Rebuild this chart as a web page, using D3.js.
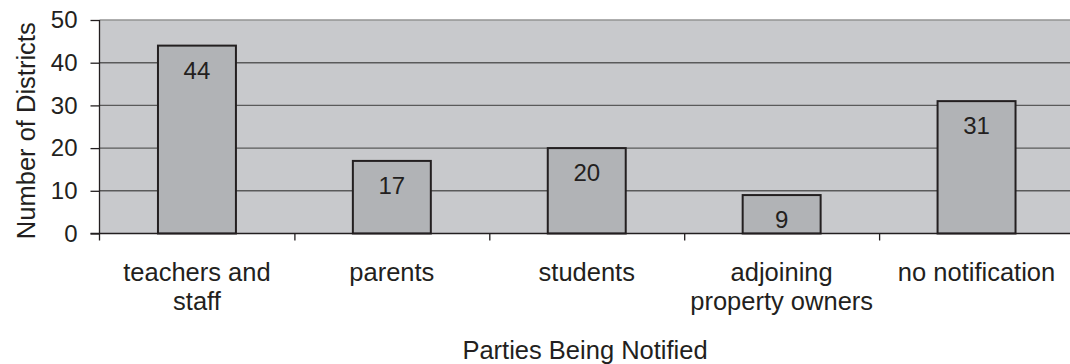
<!DOCTYPE html>
<html>
<head>
<meta charset="utf-8">
<script src="https://cdn.jsdelivr.net/npm/d3@7"></script>
<style>
  html, body { margin: 0; padding: 0; background: #fff; }
  svg { display: block; }
  text { font-family: "Liberation Sans", Arial, sans-serif; fill: #231f20; }
</style>
</head>
<body>
<svg id="chart" width="1070" height="364"></svg>
<script>
// Districts notifying each party
const categories = [["teachers and", "staff"], ["parents"], ["students"], ["adjoining", "property owners"], ["no notification"]];
const values = [44, 17, 20, 9, 31];
const yTicks = [0, 10, 20, 30, 40, 50];
const yTitle = "Number of Districts";
const xTitle = "Parties Being Notified";

const svg = d3.select("#chart");
const plot = { left: 99.5, right: 1074, top: 20, bottom: 233.5 };

const keys = categories.map(c => c.join(" "));
const x = d3.scaleBand().domain(keys).range([plot.left, plot.right])
  .paddingInner(0.6).paddingOuter(0.3);
const y = d3.scaleLinear().domain([0, 50]).range([plot.bottom, plot.top]);
// category boundaries for the x tick marks
const xb = d3.scaleLinear().domain([0, keys.length]).range([plot.left, plot.right]);

// plot background
svg.append("rect")
  .attr("x", plot.left).attr("y", plot.top)
  .attr("width", plot.right - plot.left).attr("height", plot.bottom - plot.top)
  .attr("fill", "#c8c9cc");

// gridlines
svg.append("g").selectAll("line").data(yTicks.filter(t => t > 0)).join("line")
  .attr("x1", plot.left).attr("x2", plot.right)
  .attr("y1", d => y(d)).attr("y2", d => y(d))
  .attr("stroke", d => d === 50 ? "#939393" : "#5a5a5a")
  .attr("stroke-width", 1.4);

// bars
svg.append("g").selectAll("rect").data(values).join("rect")
  .attr("x", (d, i) => x(keys[i]))
  .attr("y", d => y(d))
  .attr("width", x.bandwidth())
  .attr("height", d => y(0) - y(d))
  .attr("fill", "#b1b3b6")
  .attr("stroke", "#231f20")
  .attr("stroke-width", 2);

// value labels
svg.append("g").selectAll("text").data(values).join("text")
  .attr("x", (d, i) => x(keys[i]) + x.bandwidth() / 2)
  .attr("y", d => y(d) + 33)
  .attr("text-anchor", "middle")
  .style("font-size", "24px")
  .text(d => d);

// y axis
const yAxis = svg.append("g").attr("transform", `translate(${plot.left},0)`)
  .call(d3.axisLeft(y).tickValues(yTicks).tickSize(9).tickPadding(13).tickSizeOuter(0));
yAxis.select(".domain").remove();
yAxis.selectAll(".tick line").attr("stroke", "#231f20").attr("stroke-width", 1.3);
yAxis.selectAll(".tick text").style("font-size", "24px").attr("fill", "#231f20")
  .style("font-family", "Liberation Sans, Arial, sans-serif");
yAxis.append("line").attr("x1", 0).attr("x2", 0)
  .attr("y1", plot.top).attr("y2", plot.bottom + 7)
  .attr("stroke", "#231f20").attr("stroke-width", 1.3);

// x axis (ticks at category boundaries)
const xAxis = svg.append("g").attr("transform", `translate(0,${plot.bottom})`)
  .call(d3.axisBottom(xb).tickValues(d3.range(1, keys.length)).tickSize(7).tickFormat(""));
xAxis.select(".domain").remove();
xAxis.selectAll(".tick line").attr("stroke", "#231f20").attr("stroke-width", 1.3);
xAxis.append("line").attr("x1", plot.left - 9).attr("x2", plot.right)
  .attr("y1", 0).attr("y2", 0)
  .attr("stroke", "#231f20").attr("stroke-width", 1.6);

// category labels
const lab = svg.append("g").selectAll("text").data(categories).join("text")
  .attr("x", (d, i) => x(keys[i]) + x.bandwidth() / 2)
  .attr("y", 281)
  .attr("text-anchor", "middle")
  .style("font-size", "25.5px");
lab.selectAll("tspan").data(d => d).join("tspan")
  .attr("x", function () { return d3.select(this.parentNode).attr("x"); })
  .attr("dy", (d, i) => i === 0 ? 0 : 29)
  .text(d => d);

// axis titles
svg.append("text")
  .attr("transform", `translate(35,${(plot.top + plot.bottom) / 2 + 4}) rotate(-90)`)
  .attr("text-anchor", "middle")
  .style("font-size", "25.5px")
  .text(yTitle);

svg.append("text")
  .attr("x", 585).attr("y", 359)
  .attr("text-anchor", "middle")
  .style("font-size", "25.5px")
  .text(xTitle);
</script>
</body>
</html>
